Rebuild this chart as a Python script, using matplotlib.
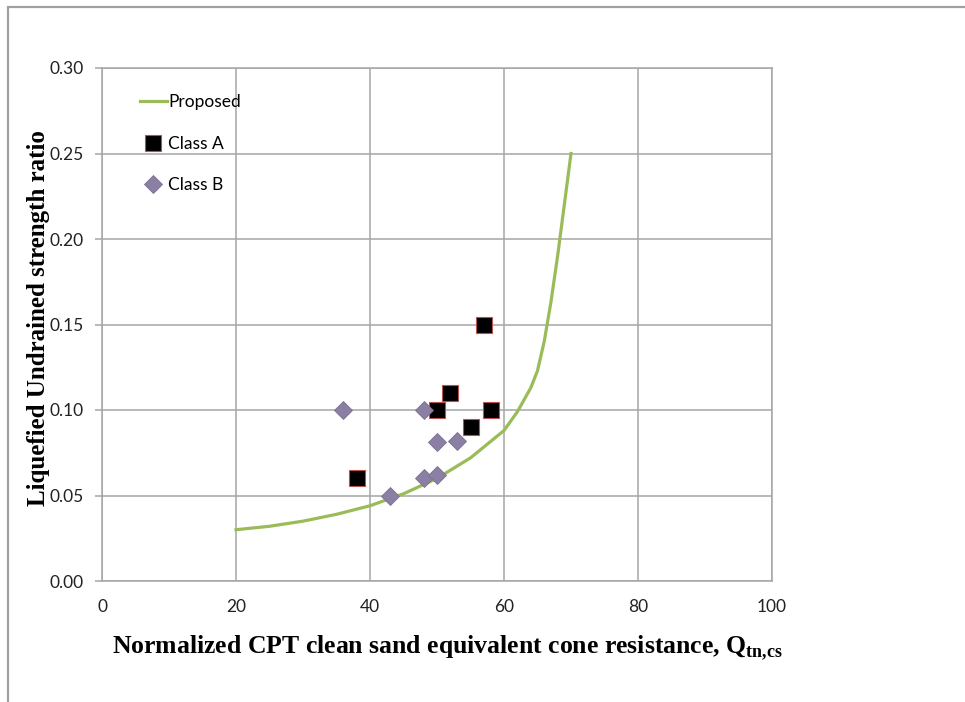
import matplotlib
matplotlib.use("Agg")
import matplotlib.pyplot as plt
from matplotlib.patches import Rectangle

# ---- data ----
curve_x = [20, 25, 30, 35, 40, 45, 50, 55, 60, 62, 64, 65, 66, 67, 68, 69, 70]
curve_y = [0.030, 0.032, 0.035, 0.039, 0.044, 0.051, 0.060, 0.072, 0.088, 0.099,
           0.113, 0.123, 0.140, 0.163, 0.190, 0.220, 0.250]

classA_x = [57, 52, 50, 58, 55, 38]
classA_y = [0.150, 0.110, 0.100, 0.100, 0.090, 0.060]

classB_x = [36, 48, 50, 53, 48, 50, 43]
classB_y = [0.100, 0.100, 0.081, 0.082, 0.060, 0.062, 0.050]

xticks = [0, 20, 40, 60, 80, 100]
yticks = [0.00, 0.05, 0.10, 0.15, 0.20, 0.25, 0.30]

plt.rcParams['mathtext.fontset'] = 'custom'
plt.rcParams['mathtext.rm'] = 'Liberation Serif:bold'
plt.rcParams['mathtext.bf'] = 'Liberation Serif:bold'

fig = plt.figure(figsize=(9.65, 7.02), dpi=100)
ax = fig.add_axes([102/965, 1-581/702, 670/965, 513/702])

grid_c = '#a6a6a6'
ax.plot(curve_x, curve_y, color='#9bbb59', lw=2.3, label='Proposed', zorder=3)
ax.plot(classA_x, classA_y, ls='none', marker='s', ms=11, mfc='black',
        mec='#c0504d', mew=0.8, label='Class A', zorder=4)
ax.plot(classB_x, classB_y, ls='none', marker='D', ms=9.5, mfc='#8b80a3',
        mec='#7a7092', mew=0.6, label='Class B', zorder=4)

ax.set_xlim(0, 100)
ax.set_ylim(0, 0.30)
ax.set_xticks(xticks)
ax.set_yticks(yticks)
ax.set_yticklabels([f'{v:.2f}' for v in yticks])
ax.grid(True, color=grid_c, lw=1.1)
ax.set_axisbelow(True)
for s in ax.spines.values():
    s.set_color(grid_c)
    s.set_linewidth(1.1)
ax.tick_params(axis='both', colors=grid_c, width=1.1, labelcolor='#222222',
               labelsize=12.5)
ax.tick_params(axis='x', length=0, pad=13)
ax.tick_params(axis='y', length=5, pad=8)
for lab in ax.get_xticklabels() + ax.get_yticklabels():
    lab.set_family('Lato')

ax.set_xlabel(r'Normalized CPT clean sand equivalent cone resistance, Q$_{\mathrm{tn{,}cs}}$',
              family='Liberation Serif', fontweight='bold', fontsize=18.5)
ax.xaxis.set_label_coords((447 - 102) / 670, (581 - 634) / 513)
ax.set_ylabel('Liquefied Undrained strength ratio', family='Liberation Serif',
              fontweight='bold', fontsize=18)
ax.yaxis.set_label_coords((50 - 102) / 670, (581 - 318) / 513)

leg = ax.legend(loc='upper left', bbox_to_anchor=(0.046, 0.962), frameon=False,
                prop={'family': 'Lato', 'size': 12.5}, handlelength=1.55,
                handletextpad=0.08, labelspacing=1.45, borderaxespad=0)

# outer frame
fig.patches.append(Rectangle((8/965, -0.05), 1.1, 1 - 7/702 + 0.05,
                             transform=fig.transFigure, fill=False,
                             edgecolor='#a0a0a0', lw=1.6))

fig.savefig('out.png', dpi=100)
